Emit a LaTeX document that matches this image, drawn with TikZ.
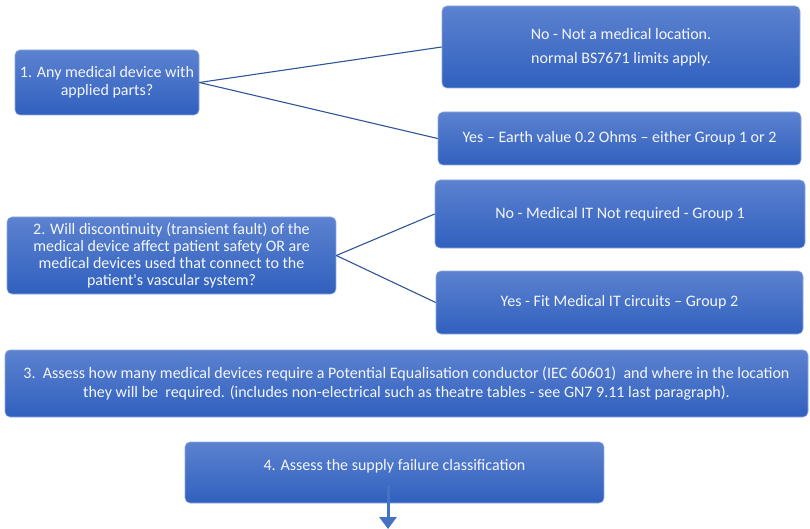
\documentclass[tikz,border=0pt]{standalone}
\usepackage{fontspec}
\setmainfont{Carlito}[Ligatures=TeXOff]
\usetikzlibrary{arrows.meta}
\definecolor{boxtop}{RGB}{92,130,208}
\definecolor{boxbot}{RGB}{48,96,190}
\definecolor{boxedge}{RGB}{143,170,220}
\definecolor{linkc}{RGB}{47,85,151}
\definecolor{arrowc}{RGB}{68,114,196}
\definecolor{txt}{RGB}{244,246,252}
\tikzset{
  stepbox/.style={draw=boxedge, line width=0.6pt, rounded corners=5pt,
    top color=boxtop, bottom color=boxbot, text=txt, align=center,
    inner sep=0pt, font=\fontsize{16}{18}\selectfont},
  link/.style={draw=linkc, line width=1.1pt},
  downarrow/.style={draw=arrowc, line width=3pt, -{Triangle[width=17pt,length=12pt]}},
}
\begin{document}
\begin{tikzpicture}[x=1pt,y=-1pt]
\useasboundingbox (0,0) rectangle (810,529);
\node[stepbox, minimum width=184pt, minimum height=65pt] (b1) at (107,82.5)
  {1. Any medical device with\\applied parts?};
\node[stepbox, minimum width=358pt, minimum height=82pt,
  font=\fontsize{16}{24}\selectfont] (n1) at (621,47)
  {No - Not a medical location.\\normal BS7671 limits apply.};
\node[stepbox, minimum width=363pt, minimum height=53pt] (y1) at (619.5,138.5)
  {Yes – Earth value 0.2 Ohms – either Group 1 or 2};
\node[stepbox, minimum width=329pt, minimum height=77pt,
  font=\fontsize{16}{17}\selectfont] (b2) at (171.5,255.5)
  {2. Will discontinuity (transient fault) of the\\medical device affect patient safety OR are\\medical devices used that connect to the\\patient's vascular system?};
\node[stepbox, minimum width=370pt, minimum height=68pt] (n2) at (620,214)
  {No - Medical IT Not required - Group 1};
\node[stepbox, minimum width=367pt, minimum height=63pt] (y2) at (619.5,302.5)
  {Yes - Fit Medical IT circuits – Group 2};
\node[stepbox, minimum width=803pt, minimum height=67pt, font=\fontsize{16}{19.5}\selectfont] (b3) at (406.5,383.5)
  {3.\ \ Assess how many medical devices require a Potential Equalisation conductor (IEC 60601)\ \ and where in the location\\they will be\ \ required. (includes non-electrical such as theatre tables - see GN7 9.11 last paragraph).};
\node[stepbox, minimum width=419pt, minimum height=61pt] (b4) at (394.5,472.5) {};
\node[text=txt, font=\fontsize{16}{18}\selectfont, inner sep=0pt] (t4) at (394.5,466)
  {4. Assess the supply failure classification};
\draw[link] (b1.east) -- (n1.west);
\draw[link] (b1.east) -- (y1.west);
\draw[link] (b2.east) -- (n2.west);
\draw[link] (b2.east) -- (y2.west);
\coordinate (as) at (388,485);
\coordinate (ae) at (388,529);
\draw[downarrow] (as) -- (ae);
\end{tikzpicture}
\end{document}
